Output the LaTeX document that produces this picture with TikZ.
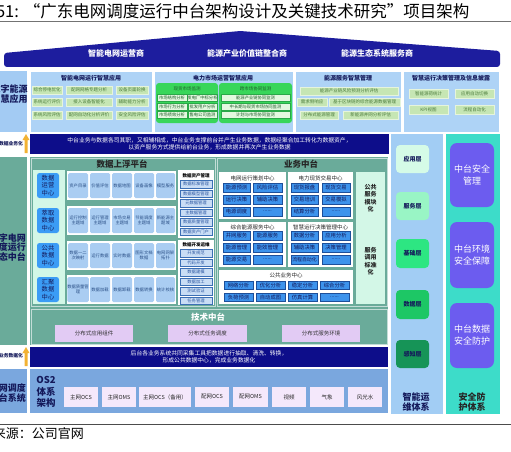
\documentclass[tikz,border=0pt]{standalone}
\usepackage{fontspec}
\setmainfont{Noto Sans CJK SC}
\definecolor{navyB}{HTML}{1D1D9E}
\definecolor{barN}{HTML}{0D0D8A}
\definecolor{lblB}{HTML}{A3CBF3}
\definecolor{secB}{HTML}{AED3F6}
\definecolor{tN}{HTML}{14195A}
\definecolor{giF}{HTML}{C6E6B4}
\definecolor{giD}{HTML}{E6F4DC}
\definecolor{giT}{HTML}{4A7A3A}
\definecolor{mkF}{HTML}{38D65A}
\definecolor{mkiF}{HTML}{E3F8DF}
\definecolor{mkiD}{HTML}{2AA848}
\definecolor{mkiT}{HTML}{1F5A2A}
\definecolor{tealC}{HTML}{6AAB9A}
\definecolor{mintC}{HTML}{D3F7E7}
\definecolor{cB}{HTML}{3B9CF5}
\definecolor{diF}{HTML}{AACDF2}
\definecolor{diT}{HTML}{2A4F86}
\definecolor{gmF}{HTML}{C9DDF5}
\definecolor{gmD}{HTML}{3C6FB5}
\definecolor{gmT}{HTML}{2A55A0}
\definecolor{biF}{HTML}{3D93EC}
\definecolor{biD}{HTML}{1D4F9A}
\definecolor{techP}{HTML}{E2CBF4}
\definecolor{osBg}{HTML}{7AA7DE}
\definecolor{osI}{HTML}{F4E8FB}
\definecolor{rcol}{HTML}{A2CDF4}
\definecolor{cyanC}{HTML}{3DDCC9}
\definecolor{pB}{HTML}{6C5CEF}
\definecolor{layA}{HTML}{D5FBE7}
\definecolor{layB}{HTML}{99F5C5}
\definecolor{layC}{HTML}{2DE682}
\definecolor{layD}{HTML}{1DC765}
\definecolor{layE}{HTML}{169457}
\definecolor{arrC}{HTML}{F2B233}
\newcommand\mybox[7]{\node[#6,minimum width={(#4)-(#2)},minimum height={(#5)-(#3)}] (#1) at ({((#2)+(#4))/2},{((#3)+(#5))/2}) {#7};}
\tikzset{
 base/.style={inner sep=0pt,outer sep=0pt,align=center},
 plain/.style={inner sep=0pt,outer sep=0pt,align=center},
 sec/.style={base,fill=secB,draw=white,line width=0.6pt},
 gi/.style={base,fill=giF,draw=giD,line width=0.3pt,text=giT,font=\fontsize{4.5}{5}\selectfont},
 mk/.style={base,fill=mkF,rounded corners=3pt},
 mki/.style={base,fill=mkiF,draw=mkiD,line width=0.3pt,text=mkiT,font=\fontsize{4.3}{5}\selectfont},
 ttl/.style={plain,font=\bfseries\fontsize{6}{7}\selectfont,text=tN},
 mkt/.style={plain,font=\fontsize{4.5}{5}\selectfont,text=mkiT},
 bt/.style={plain,font=\bfseries\fontsize{8}{9}\selectfont,text=white},
 bar/.style={base,fill=barN,text=white,font=\fontsize{5.8}{7.5}\selectfont},
 ll/.style={plain,anchor=east,font=\bfseries\fontsize{9}{9.8}\selectfont,text=tN},
 sl/.style={plain,anchor=east,font=\bfseries\fontsize{4.8}{5.5}\selectfont,text=tN},
 dc/.style={base,fill=cB,rounded corners=2.5pt,text=tN,font=\fontsize{6.3}{7.4}\selectfont},
 di/.style={base,fill=diF,rounded corners=1.5pt,text=diT,font=\fontsize{4.3}{5.3}\selectfont},
 gm/.style={base,fill=gmF,draw=gmD,line width=0.4pt,text=gmT,font=\fontsize{4.3}{5}\selectfont},
 gt/.style={plain,font=\bfseries\fontsize{4.5}{5}\selectfont,text=black},
 wbox/.style={base,fill=white},
 bi/.style={base,fill=biF,draw=biD,line width=0.4pt,text=tN,font=\fontsize{5.3}{6}\selectfont},
 ct/.style={plain,font=\fontsize{5.5}{6}\selectfont,text=black!85},
 pt2/.style={plain,font=\bfseries\fontsize{8.5}{9}\selectfont,text=black!85},
 techbox/.style={base,fill=techP,text=black!80,font=\fontsize{5.5}{6}\selectfont},
 osi/.style={base,fill=osI,text=black!85,font=\fontsize{5.5}{6}\selectfont},
 lay/.style={base,rounded corners=4pt,font=\bfseries\fontsize{6}{7}\selectfont,text=tN},
 spb/.style={base,fill=pB,rounded corners=7pt,text=white,font=\fontsize{9}{12}\selectfont},
}
\begin{document}
\begin{tikzpicture}[x=1pt,y=-1pt]
\useasboundingbox (0,0) rectangle (511,452);
\fill[white] (0,0) rectangle (511,452);
% title
\node[plain,anchor=west,font=\fontsize{16.5}{17}\selectfont] (title) at (-4,11) {51: “广东电网调度运行中台架构设计及关键技术研究”项目架构};
\draw[black!55,line width=0.8pt] (0,21) -- (511,21);
% banner
\fill[navyB,rounded corners=3pt] (4,67) -- (4,53) -- (240,31) -- (500,51) -- (500,67) -- cycle;
\node[bt] (b1) at (116,53) {智能电网运营商};
\node[bt] (b2) at (247,53) {能源产业价值链整合商};
\node[bt] (b3) at (377,53) {能源生态系统服务商};
% upper left label
\mybox{lbl1}{-10}{71}{27}{132}{base,fill=lblB}{}
\node[ll] (lbl1t) at (27.5,94) {数字能源\\智慧应用};
% S1
\mybox{s1}{30}{71}{152}{132}{sec}{}
\node[ttl] (s1t) at (91,78) {智能电网运行智慧应用};
\mybox{s1a}{32}{86}{62}{94}{gi}{综合停电优化}
\mybox{s1b}{66}{86}{112}{94}{gi}{配网网格专题分析}
\mybox{s1c}{116}{86}{148}{94}{gi}{设备页面轮换}
\mybox{s1d}{32}{98}{62}{106}{gi}{系统运行评价}
\mybox{s1e}{66}{98}{112}{106}{gi}{接入设备智能化}
\mybox{s1f}{116}{98}{148}{106}{gi}{辅助能力分析}
\mybox{s1g}{32}{111}{62}{119}{gi}{系统风险评估}
\mybox{s1h}{66}{111}{112}{119}{gi}{配网自动化分析评价}
\mybox{s1i}{116}{111}{148}{119}{gi}{安全风险评估}
% S2
\mybox{s2}{154}{71}{293}{132}{sec}{}
\node[ttl] (s2t) at (223,78) {电力市场运营智慧应用};
\mybox{mA}{156}{83}{218}{123}{mk}{}
\node[mkt] (mAt) at (187,89) {现货市场监测};
\mybox{mA1}{157}{94.5}{187}{101.5}{mki}{市场结构分析}
\mybox{mA2}{188}{94.5}{217}{101.5}{mki}{发电厂中标分析}
\mybox{mA3}{157}{103}{187}{110}{mki}{市场行为分析}
\mybox{mA4}{188}{103}{217}{110}{mki}{批发用户分析}
\mybox{mA5}{157}{111.5}{187}{118.5}{mki}{市场绩效分析}
\mybox{mA6}{188}{111.5}{217}{118.5}{mki}{售电公司监测}
\mybox{mB}{219}{83}{292}{123}{mk}{}
\node[mkt] (mBt) at (255.5,89) {跨市场协同监测};
\mybox{mB1}{221}{94.5}{290}{101.5}{mki}{能源产业链协同监测}
\mybox{mB2}{221}{103}{290}{110}{mki}{中长期与现货市场协同监测}
\mybox{mB3}{221}{111.5}{290}{118.5}{mki}{计划与市场协同监测}
% S3
\mybox{s3}{295}{71}{401}{132}{sec}{}
\node[ttl] (s3t) at (348,78) {能源服务智慧管理};
\mybox{s3a}{300}{87}{398}{95}{gi}{能源产业链风险预测分析评估}
\mybox{s3b}{297}{98}{327}{106}{gi}{需求侧响应}
\mybox{s3c}{329}{98}{400}{106}{gi}{基于区块链的综合能源数据管理}
\mybox{s3d}{300}{111}{338}{119}{gi}{分布式能源管理}
\mybox{s3e}{343}{111}{398}{119}{gi}{新能源并网分析评估}
% S4
\mybox{s4}{403}{71}{499}{132}{sec}{}
\node[ttl] (s4t) at (451,78) {智慧运行决策管理及信息披露};
\mybox{s4a}{409}{89}{448}{98}{gi}{智能源荷统计}
\mybox{s4b}{455}{89}{494}{98}{gi}{应用自动切换}
\mybox{s4c}{409}{105}{448}{114}{gi}{KPI视图}
\mybox{s4d}{455}{105}{494}{114}{gi}{流程自动化}
% right columns
\fill[rcol] (391,134) rectangle (443,414);
\fill[cyanC] (446,134) rectangle (500,414);
% top bar
\mybox{bar1}{30}{134}{389}{154}{bar}{中台业务与数据各司其职，又相辅相成，中台业务支撑前台并产生业务数据，数据经聚合加工转化为数据资产，\\以资产服务方式提供给前台业务，形成数据并再次产生业务数据}
\fill[arrC] (24.5,153) -- (24.5,140) -- (22.5,140) -- (26,134) -- (29.5,140) -- (27.5,140) -- (27.5,153) -- cycle;
\node[sl] (up1) at (23,144) {数据业务化};
% middle section
\mybox{lbl2}{-10}{157}{27}{345}{base,fill=tealC}{}
\node[ll] (lbl2t) at (26,247.5) {数字电网\\调度运行\\生态中台};
\mybox{mid}{30}{157}{388}{345}{base,fill=tealC}{}
\mybox{dp}{31}{158}{215}{306}{base,draw=white!60!tealC,line width=0.8pt}{}
\mybox{bp}{217}{158}{387}{306}{base,draw=white!60!tealC,line width=0.8pt}{}
\node[pt2] (dpt) at (122,164) {数据上浮平台};
\node[pt2] (bpt) at (301,164) {业务中台};
\mybox{mint1}{33}{170}{65}{304}{base,fill=mintC}{}
\mybox{dc1}{37}{173}{59}{198}{dc}{数据\\运营\\中心}
\mybox{dc2}{37}{208}{59}{233}{dc}{萃取\\数据\\中心}
\mybox{dc3}{37}{243}{59}{268}{dc}{公共\\数据\\中心}
\mybox{dc4}{37}{277}{59}{302}{dc}{汇聚\\数据\\中心}
\mybox{r1}{67}{171}{176}{200}{wbox}{}
\mybox{r2}{67}{206}{176}{235}{wbox}{}
\mybox{r3}{67}{241}{176}{270}{wbox}{}
\mybox{r4}{67}{275}{176}{304}{wbox}{}
\mybox{r1a}{68}{173}{88}{198}{di}{资产目录}
\mybox{r1b}{90}{173}{110}{198}{di}{价值评估}
\mybox{r1c}{112}{173}{132}{198}{di}{数据地图}
\mybox{r1d}{134}{173}{154}{198}{di}{设备画像}
\mybox{r1e}{156}{173}{175}{198}{di}{模型服务}
\mybox{r2a}{68}{208}{88}{233}{di}{运行控制\\主题域}
\mybox{r2b}{90}{208}{110}{233}{di}{运行管理\\主题域}
\mybox{r2c}{112}{208}{132}{233}{di}{市场交易\\主题域}
\mybox{r2d}{134}{208}{154}{233}{di}{节能调度\\主题域}
\mybox{r2e}{156}{208}{175}{233}{di}{新能源主\\题域}
\mybox{r3a}{68}{243}{88}{268}{di}{数据一二\\次映射}
\mybox{r3b}{90}{243}{110}{268}{di}{运行数据}
\mybox{r3c}{112}{243}{132}{268}{di}{实时数据}
\mybox{r3d}{134}{243}{154}{268}{di}{图形文档\\数据}
\mybox{r3e}{156}{243}{175}{268}{di}{电网网架\\拓扑}
\mybox{r4a}{68}{277}{88}{302}{di}{数据质量管\\理}
\mybox{r4b}{90}{277}{110}{302}{di}{数据加载}
\mybox{r4c}{112}{277}{132}{302}{di}{数据卸载}
\mybox{r4d}{134}{277}{154}{302}{di}{数据转换}
\mybox{r4e}{156}{277}{175}{302}{di}{统计校核}
\mybox{g1}{178}{170}{214}{238}{wbox}{}
\node[gt] (g1t) at (196,176) {数据资产管理};
\mybox{g1a}{180}{180.25}{212}{187.75}{gm}{数据标准管理}
\mybox{g1b}{180}{189.75}{212}{197.25}{gm}{数据模型管理}
\mybox{g1c}{180}{199.25}{212}{206.75}{gm}{元数据管理}
\mybox{g1d}{180}{208.75}{212}{216.25}{gm}{主数据管理}
\mybox{g1e}{180}{218.25}{212}{225.75}{gm}{数据质量管理}
\mybox{g1f}{180}{227.75}{212}{235.25}{gm}{数据资产门户}
\mybox{g2}{178}{240}{214}{305}{wbox}{}
\node[gt] (g2t) at (196,245) {数据开发运维};
\mybox{g2a}{180}{249.25}{212}{256.75}{gm}{开发规范}
\mybox{g2b}{180}{258.75}{212}{266.25}{gm}{代码开发}
\mybox{g2c}{180}{268.25}{212}{275.75}{gm}{数据建模}
\mybox{g2d}{180}{277.75}{212}{285.25}{gm}{数据加工}
\mybox{g2e}{180}{287.25}{212}{294.75}{gm}{测试验证}
\mybox{g2f}{180}{296.75}{212}{304.25}{gm}{任务管理}
% business centres
\mybox{c1}{219}{172}{286}{219}{wbox}{}
\node[ct] (c1t) at (252.5,178) {电网运行策划中心};
\mybox{c1a}{223}{183}{250}{192}{bi}{能源预测}
\mybox{c1b}{253}{183}{282}{192}{bi}{风险评估}
\mybox{c1c}{223}{195}{250}{204}{bi}{运行决策}
\mybox{c1d}{253}{195}{282}{204}{bi}{辅助决策}
\mybox{c1e}{223}{207}{250}{216}{bi}{电源调度}
\mybox{c1f}{253}{207}{282}{216}{bi}{......}
\mybox{c2}{288}{172}{353}{219}{wbox}{}
\node[ct] (c2t) at (320.5,178) {电力现货交易中心};
\mybox{c2a}{291}{183}{318}{192}{bi}{现货报盘}
\mybox{c2b}{322}{183}{350}{192}{bi}{现货交易}
\mybox{c2c}{291}{195}{318}{204}{bi}{交易培训}
\mybox{c2d}{322}{195}{350}{204}{bi}{交易模拟}
\mybox{c2e}{291}{207}{318}{216}{bi}{结算分析}
\mybox{c2f}{322}{207}{350}{216}{bi}{......}
\mybox{c3}{219}{222}{286}{267}{wbox}{}
\node[ct] (c3t) at (252.5,227.5) {综合能源服务中心};
\mybox{c3a}{223}{231}{250}{240}{bi}{并网服务}
\mybox{c3b}{253}{231}{282}{240}{bi}{能源服务}
\mybox{c3c}{223}{243}{250}{252}{bi}{能源管理}
\mybox{c3d}{253}{243}{282}{252}{bi}{能效管理}
\mybox{c3e}{223}{255}{250}{264}{bi}{能源交易}
\mybox{c3f}{253}{255}{282}{264}{bi}{......}
\mybox{c4}{288}{222}{353}{267}{wbox}{}
\node[ct] (c4t) at (320.5,227.5) {智慧运行决策管理中心};
\mybox{c4a}{291}{231}{318}{240}{bi}{数据分析}
\mybox{c4b}{322}{231}{350}{240}{bi}{应用分析}
\mybox{c4c}{291}{243}{318}{252}{bi}{辅助决策}
\mybox{c4d}{322}{243}{350}{252}{bi}{决策管理}
\mybox{c4e}{291}{255}{318}{264}{bi,font=\fontsize{4.9}{6}\selectfont}{流程自动化}
\mybox{c4f}{322}{255}{350}{264}{bi}{......}
\mybox{c5}{219}{270}{353}{304}{wbox}{}
\node[ct] (c5t) at (286,275) {公共业务中心};
\mybox{c5a}{224}{281.5}{253}{289.5}{bi}{网络分析}
\mybox{c5b}{256}{281.5}{285}{289.5}{bi}{优化分析}
\mybox{c5c}{288}{281.5}{317}{289.5}{bi}{稳定分析}
\mybox{c5d}{320}{281.5}{349}{289.5}{bi}{综合分析}
\mybox{c5e}{224}{293}{253}{301}{bi}{负荷预测}
\mybox{c5f}{256}{293}{285}{301}{bi}{自动成图}
\mybox{c5g}{288}{293}{317}{301}{bi}{仿真计算}
\mybox{c5h}{320}{293}{349}{301}{bi}{......}
\mybox{mint2}{356}{172}{385}{304}{base,fill=mintC}{}
\node[plain,font=\bfseries\fontsize{6}{7.5}\selectfont,text=black!85] (m2a) at (370.5,198) {公共\\服务\\模块\\化};
\node[plain,font=\bfseries\fontsize{6}{7.5}\selectfont,text=black!85] (m2b) at (370.5,261) {服务\\调用\\标准\\化};
% tech platform
\mybox{tech}{31}{309}{387}{344}{base,draw=white!60!tealC,line width=0.8pt}{}
\node[plain,font=\bfseries\fontsize{8.5}{9}\selectfont,text=white] (techt) at (208,317) {技术中台};
\mybox{t1}{55}{325}{133}{342}{techbox}{分布式应用组件}
\mybox{t2}{168}{325}{247}{342}{techbox}{分布式任务调度}
\mybox{t3}{282}{325}{360}{342}{techbox}{分布式服务环境}
% bottom bar
\mybox{bar2}{30}{347}{388}{367}{bar}{后台各业务系统共同采集工具把数据进行抽取、清洗、转换，\\形成公共数据中心，完成业务数据化}
\fill[arrC] (24.5,366) -- (24.5,353) -- (22.5,353) -- (26,347) -- (29.5,353) -- (27.5,353) -- (27.5,366) -- cycle;
\node[sl] (up2) at (23,356) {业务数据化};
% OS2
\mybox{lbl3}{-10}{369}{27}{413}{base,fill=osBg}{}
\node[ll] (lbl3t) at (26,393) {电网调度\\平台系统};
\mybox{os}{30}{369}{388}{413}{base,fill=osBg}{}
\node[plain,font=\bfseries\fontsize{9.5}{11.5}\selectfont,text=tN] (ost) at (46,392) {OS2\\体系\\架构};
\mybox{o1}{64}{387}{98}{407}{osi}{主网OCS}
\mybox{o2}{102}{387}{136}{407}{osi}{主网OMS}
\mybox{o3}{139}{387}{191}{407}{osi}{主网OCS（备用）}
\mybox{o4}{195}{387}{229}{407}{osi}{配网OCS}
\mybox{o5}{233}{387}{268}{407}{osi}{配网OMS}
\mybox{o6}{272}{387}{306}{407}{osi}{视频}
\mybox{o7}{310}{387}{344}{407}{osi}{气象}
\mybox{o8}{348}{387}{382}{407}{osi}{风光水}
% layers
\mybox{L1}{396}{145}{429}{173}{lay,fill=layA}{应用层}
\mybox{L2}{396}{192}{429}{220}{lay,fill=layB}{服务层}
\mybox{L3}{396}{239}{429}{268}{lay,fill=layC}{基础层}
\mybox{L4}{396}{290}{429}{319}{lay,fill=layD}{数据层}
\mybox{L5}{396}{340}{429}{368}{lay,fill=layE}{感知层}
\node[plain,font=\bfseries\fontsize{9}{10}\selectfont,text=tN] (rct) at (416,402) {智能运\\维体系};
% security
\mybox{P1}{450}{143}{494}{207}{spb}{中台安全\\管理}
\mybox{P2}{450}{222}{494}{288}{spb}{中台环境\\安全保障}
\mybox{P3}{450}{303}{494}{368}{spb}{中台数据\\安全防护}
\node[plain,font=\bfseries\fontsize{9}{10}\selectfont,text=black!85] (sct) at (472,402) {安全防\\护体系};
% footer
\draw[black!70,line width=0.8pt] (0,424) -- (511,424);
\node[plain,anchor=west,font=\fontsize{13}{14}\selectfont] (src) at (-7,434) {来源：公司官网};
\end{tikzpicture}
\end{document}
